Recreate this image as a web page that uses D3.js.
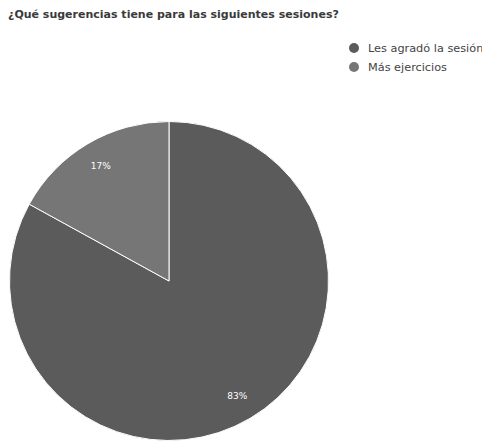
<!DOCTYPE html>
<html>
<head>
<meta charset="utf-8">
<script src="https://cdn.jsdelivr.net/npm/d3@7/dist/d3.min.js"></script>
<style>
  html, body { margin: 0; padding: 0; background: #ffffff; overflow: hidden; }
  svg { display: block; font-family: "DejaVu Sans", Verdana, sans-serif; }
</style>
</head>
<body>
<script>
// Survey answers and their shares (percent)
const categories = ["Les agradó la sesión", "Más ejercicios"];
const values = [83, 17];
const sliceColors = ["#5b5b5b", "#767676"];
const title = "¿Qué sugerencias tiene para las siguientes sesiones?";

const width = 482, height = 442;
const svg = d3.select("body").append("svg")
  .attr("width", width)
  .attr("height", height);

// Size a text node so that it spans the given width
function fitWidth(sel, target) {
  const w = sel.node().getComputedTextLength();
  const fs = parseFloat(sel.attr("font-size"));
  sel.attr("font-size", (fs * target / w).toFixed(2));
}

const titleText = svg.append("text")
  .attr("x", 8)
  .attr("y", 18)
  .attr("font-size", 10)
  .attr("font-weight", "bold")
  .attr("fill", "#3a3a3a")
  .text(title);
fitWidth(titleText, 331);

const cx = 169, cy = 281, radius = 159.5;

const pie = d3.pie().sort(null).value(d => d.value);
const data = categories.map((c, i) => ({ name: c, value: values[i] }));
const arcs = pie(data);

const color = d3.scaleOrdinal().domain(categories).range(sliceColors);
const arc = d3.arc().innerRadius(0).outerRadius(radius);
const labelArc = d3.arc().innerRadius(radius * 0.84).outerRadius(radius * 0.84);

const g = svg.append("g").attr("transform", `translate(${cx},${cy})`);

g.selectAll("path.slice")
  .data(arcs)
  .join("path")
  .attr("class", "slice")
  .attr("d", arc)
  .attr("fill", d => color(d.data.name))
  .attr("stroke", "#ffffff")
  .attr("stroke-width", 1);

g.selectAll("text.pct")
  .data(arcs)
  .join("text")
  .attr("class", "pct")
  .attr("transform", d => `translate(${labelArc.centroid(d)})`)
  .attr("text-anchor", "middle")
  .attr("dominant-baseline", "central")
  .attr("font-size", 9)
  .attr("fill", "#ffffff")
  .text(d => Math.round(d.value) + "%");

// Legend
const legend = svg.append("g").attr("transform", "translate(354,48)");
const items = legend.selectAll("g.item")
  .data(categories)
  .join("g")
  .attr("class", "item")
  .attr("transform", (d, i) => `translate(0,${i * 19})`);

items.append("circle")
  .attr("r", 5)
  .attr("fill", d => color(d));

const legendText = items.append("text")
  .attr("x", 14)
  .attr("dominant-baseline", "central")
  .attr("font-size", 10)
  .attr("fill", "#444444")
  .text(d => d);

// Both legend entries share one size, set from the shorter label
const probe = legendText.filter((d, i) => i === 1);
const w = probe.node().getComputedTextLength();
legendText.attr("font-size", (10 * 79 / w).toFixed(2));
</script>
</body>
</html>
